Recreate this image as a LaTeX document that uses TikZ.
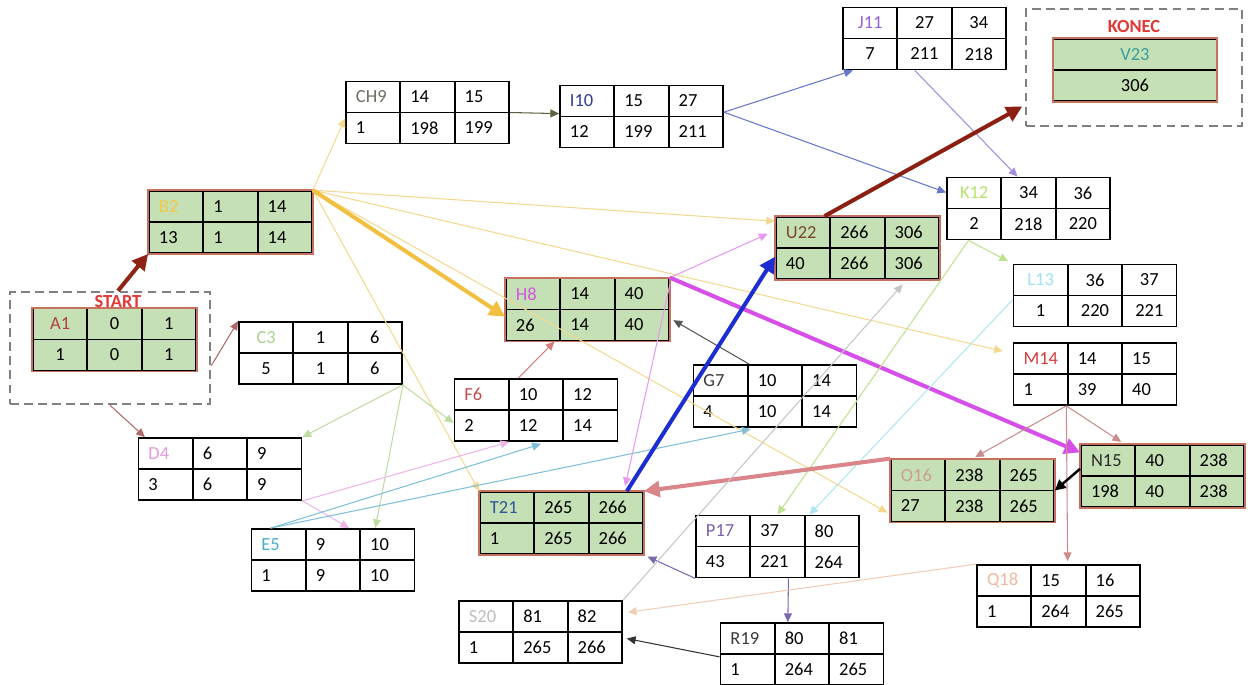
\documentclass[tikz,border=0pt]{standalone}
\usepackage{fontspec}
\setmainfont{Carlito}
\usetikzlibrary{matrix,arrows.meta}

\definecolor{zelena}{HTML}{C5E0B4}
\definecolor{okrajcol}{HTML}{C4725E}
\definecolor{cerv}{HTML}{E03A36}
\definecolor{ramcol}{HTML}{808080}
% popisky cinnosti
\definecolor{cA1}{HTML}{B0413E}
\definecolor{cB2}{HTML}{F2C84B}
\definecolor{cC3}{HTML}{A9D18E}
\definecolor{cD4}{HTML}{E39AD6}
\definecolor{cE5}{HTML}{4BACC6}
\definecolor{cF6}{HTML}{C0504D}
\definecolor{cG7}{HTML}{3A3A3A}
\definecolor{cH8}{HTML}{D456E0}
\definecolor{cCH9}{HTML}{6E6E5E}
\definecolor{cI10}{HTML}{2E3D94}
\definecolor{cJ11}{HTML}{9562D6}
\definecolor{cK12}{HTML}{B6E36B}
\definecolor{cL13}{HTML}{9FE1F0}
\definecolor{cM14}{HTML}{D23C3C}
\definecolor{cN15}{HTML}{2A2A2A}
\definecolor{cO16}{HTML}{C9A08E}
\definecolor{cP17}{HTML}{7B5FA8}
\definecolor{cQ18}{HTML}{EDB99E}
\definecolor{cR19}{HTML}{3A3A3A}
\definecolor{cS20}{HTML}{BDBDBD}
\definecolor{cT21}{HTML}{2F5597}
\definecolor{cU22}{HTML}{7B4A2D}
\definecolor{cV23}{HTML}{3C9E9E}
% hrany
\definecolor{lStart}{HTML}{B06868}
\definecolor{tStart}{HTML}{8E2416}
\definecolor{lB2}{HTML}{F3D98F}
\definecolor{tB2}{HTML}{F2C040}
\definecolor{lC3}{HTML}{BFDCA0}
\definecolor{lD4}{HTML}{EFB5E6}
\definecolor{lE5}{HTML}{7FC0D8}
\definecolor{lF6}{HTML}{D27E7B}
\definecolor{lG7}{HTML}{555555}
\definecolor{lH8}{HTML}{E49AF0}
\definecolor{tH8}{HTML}{D54FE8}
\definecolor{lCH9}{HTML}{5A6040}
\definecolor{lI10}{HTML}{6677CC}
\definecolor{lJ11}{HTML}{A48CE0}
\definecolor{lK12}{HTML}{BCE290}
\definecolor{lL13}{HTML}{ADE6F2}
\definecolor{lM14}{HTML}{C98B8B}
\definecolor{lP17}{HTML}{7D68B0}
\definecolor{lQ18}{HTML}{F0CDB8}
\definecolor{lR19}{HTML}{333333}
\definecolor{lS20}{HTML}{C6C6C6}
\definecolor{tO16}{HTML}{D9858A}
\definecolor{tT21}{HTML}{1C2ED2}
\definecolor{tU22}{HTML}{8A1F12}

\begin{document}
\begin{tikzpicture}[x=0.02cm, y=-0.02cm, font=\fontsize{10.5}{12}\selectfont,
  tabulka/.style={matrix of nodes, inner sep=0pt, outer sep=0pt,
    row sep=-1pt, column sep=-1pt,
    nodes={draw=black, line width=1pt, outer sep=0pt, inner xsep=0.2cm,
      text width=0.687cm, align=left, minimum height=0.62cm, anchor=center}},
  stred/.style={nodes={align=center}},
  kriticka/.style={fill=zelena},
  okraj/.style={draw=okrajcol, line width=1pt},
  ramecek/.style={draw=ramcol, line width=1.4pt, dash pattern=on 5pt off 3pt},
  napis/.style={text=cerv, font=\fontsize{10.5}{12}\bfseries\selectfont},
  hrana/.style={line width=0.6pt, -{Triangle[length=5pt,width=4.5pt]}},
  tlusta/.style={line width=2.3pt, -{Triangle[length=9pt,width=9pt]}},
]
\useasboundingbox (0,0) rectangle (1251,684);

% START a KONEC
\node[ramecek, minimum width=4cm, minimum height=2.24cm] (start) at (110,348) {};
\node[napis] (startlbl) at (118,302) {START};
\node[ramecek, minimum width=4.32cm, minimum height=2.34cm] (konec) at (1134,67.5) {};
\node[napis] (koneclbl) at (1134,27) {KONEC};

% cinnosti
\matrix (A1) [tabulka, stred, kriticka] at (114.5,339.5) {|[text=cA1]| A1 & 0 & 1 \\ 1 & 0 & 1 \\};
\matrix (B2) [tabulka, kriticka] at (230.5,222) {|[text=cB2]| B2 & 1 & 14 \\ 13 & 1 & 14 \\};
\matrix (C3) [tabulka, stred] at (320.5,353) {|[text=cC3]| C3 & 1 & 6 \\ 5 & 1 & 6 \\};
\matrix (D4) [tabulka] at (220,469) {|[text=cD4]| D4 & 6 & 9 \\ 3 & 6 & 9 \\};
\matrix (E5) [tabulka] at (333,560) {|[text=cE5]| E5 & 9 & 10 \\ 1 & 9 & 10 \\};
\matrix (F6) [tabulka] at (536,410) {|[text=cF6]| F6 & 10 & 12 \\ 2 & 12 & 14 \\};
\matrix (G7) [tabulka] at (775,396) {|[text=cG7]| G7 & 10 & 14 \\ 4 & 10 & 14 \\};
\matrix (H8) [tabulka, kriticka] at (587.5,309.5) {|[text=cH8]| H8 & 14 & 40 \\ 26 & 14 & 40 \\};
\matrix (CH9) [tabulka] at (427.5,112.5) {|[text=cCH9]| CH9 & 14 & 15 \\ 1 & 198 & 199 \\};
\matrix (I10) [tabulka] at (641.5,116.5) {|[text=cI10]| I10 & 15 & 27 \\ 12 & 199 & 211 \\};
\matrix (J11) [tabulka, stred] at (924.5,38.5) {|[text=cJ11]| J11 & 27 & 34 \\ 7 & 211 & 218 \\};
\matrix (K12) [tabulka, stred] at (1028.5,208.5) {|[text=cK12]| K12 & 34 & 36 \\ 2 & 218 & 220 \\};
\matrix (L13) [tabulka, stred] at (1095,295.5) {|[text=cL13]| L13 & 36 & 37 \\ 1 & 220 & 221 \\};
\matrix (M14) [tabulka] at (1095,374) {|[text=cM14]| M14 & 14 & 15 \\ 1 & 39 & 40 \\};
\matrix (N15) [tabulka, kriticka] at (1162.5,476) {|[text=cN15]| N15 & 40 & 238 \\ 198 & 40 & 238 \\};
\matrix (O16) [tabulka, kriticka] at (972.5,490.5) {|[text=cO16]| O16 & 238 & 265 \\ 27 & 238 & 265 \\};
\matrix (P17) [tabulka] at (777.5,546.5) {|[text=cP17]| P17 & 37 & 80 \\ 43 & 221 & 264 \\};
\matrix (Q18) [tabulka] at (1058.5,596) {|[text=cQ18]| Q18 & 15 & 16 \\ 1 & 264 & 265 \\};
\matrix (R19) [tabulka] at (802,654) {|[text=cR19]| R19 & 80 & 81 \\ 1 & 264 & 265 \\};
\matrix (S20) [tabulka] at (540.5,632) {|[text=cS20]| S20 & 81 & 82 \\ 1 & 265 & 266 \\};
\matrix (T21) [tabulka, kriticka] at (561.5,523) {|[text=cT21]| T21 & 265 & 266 \\ 1 & 265 & 266 \\};
\matrix (U22) [tabulka, kriticka] at (857.5,248) {|[text=cU22]| U22 & 266 & 306 \\ 40 & 266 & 306 \\};
\matrix (V23) [tabulka, kriticka, nodes={text width=2.86cm, align=center}] at (1135,70) {|[text=cV23]| V23 \\ 306 \\};

\foreach \u in {A1,B2,H8,N15,O16,T21,U22,V23}
  \draw[okraj] (\u.south west) rectangle (\u.north east);

% vazby
\draw[tlusta, tStart] (start.82) -- (B2.south west);
\draw[hrana, lStart] (start.-10) -- (C3.north west);
\draw[hrana, lStart] (start.south) -- (D4.157);

\draw[hrana, lB2] (B2.north east) -- (CH9.184);
\draw[hrana, lB2] (B2.north east) -- (U22.162);
\draw[hrana, lB2, shorten >=0.2cm] (B2.north east) -- (M14.166);
\draw[hrana, lB2, shorten >=0.06cm] (B2.north east) -- (O16.196);
\draw[hrana, lB2] (B2.north east) -- (T21.north west);
\draw[tlusta, tB2] (B2.north east) -- (H8.185);

\draw[hrana, lC3] (C3.south east) -- (D4.north east);
\draw[hrana, lC3] (C3.south east) -- (E5.37);
\draw[hrana, lC3] (C3.south east) -- (F6.189);

\draw[hrana, lD4] (D4.south east) -- (E5.63);
\draw[hrana, lD4] (D4.south east) -- (F6.230);

\draw[hrana, lE5, shorten >=0.14cm] (E5.153) -- (F6.290);
\draw[hrana, lE5, shorten >=0.12cm] (E5.153) -- (G7.240);

\draw[hrana, lF6] (F6.119) -- (H8.224);
\draw[hrana, lG7, shorten >=0.08cm] (G7.129) -- (H8.-6);

\draw[hrana, lH8, shorten >=0.16cm] (H8.north east) -- (U22.168);
\draw[hrana, lH8, shorten >=0.1cm] (H8.17) -- (T21.27);
\draw[tlusta, tH8] (H8.north east) -- (N15.164);

\draw[hrana, lCH9] (CH9.east) -- (I10.178);
\draw[hrana, lI10] (I10.3) -- (J11.204);
\draw[hrana, lI10] (I10.3) -- (K12.169);
\draw[hrana, lJ11] (J11.253) -- (K12.109);

\draw[hrana, lK12, shorten >=0.1cm] (K12.208) -- (L13.north west);
\draw[hrana, lK12] (K12.208) -- (P17.north);
\draw[hrana, lL13] (L13.183) -- (P17.45);

\draw[hrana, lM14, shorten >=0.06cm] (M14.228) -- (O16.north);
\draw[hrana, lM14, shorten >=0.08cm] (M14.228) -- (N15.140);
\draw[hrana, lM14, shorten >=0.06cm] (M14.228) -- (Q18.74);

\draw[line width=1.4pt, -{Triangle[length=6pt,width=6pt]}] (N15.175) -- (O16.east);
\draw[tlusta, tO16] (O16.north west) -- (T21.north east);

\draw[hrana, lP17, shorten >=0.08cm] (P17.south west) -- (T21.south east);
\draw[hrana, lP17] (P17.289) -- (R19.114);
\draw[hrana, lQ18, shorten >=0.1cm] (Q18.north west) -- (S20.13);
\draw[hrana, lR19, shorten >=0.08cm] (R19.182) -- (S20.356);
\draw[hrana, lS20, shorten >=0.12cm] (S20.21) -- (U22.327);

\draw[tlusta, tT21] (T21.26) -- (U22.186);
\draw[tlusta, tU22, shorten >=0.06cm] (U22.136) -- (konec.199);
\end{tikzpicture}
\end{document}
